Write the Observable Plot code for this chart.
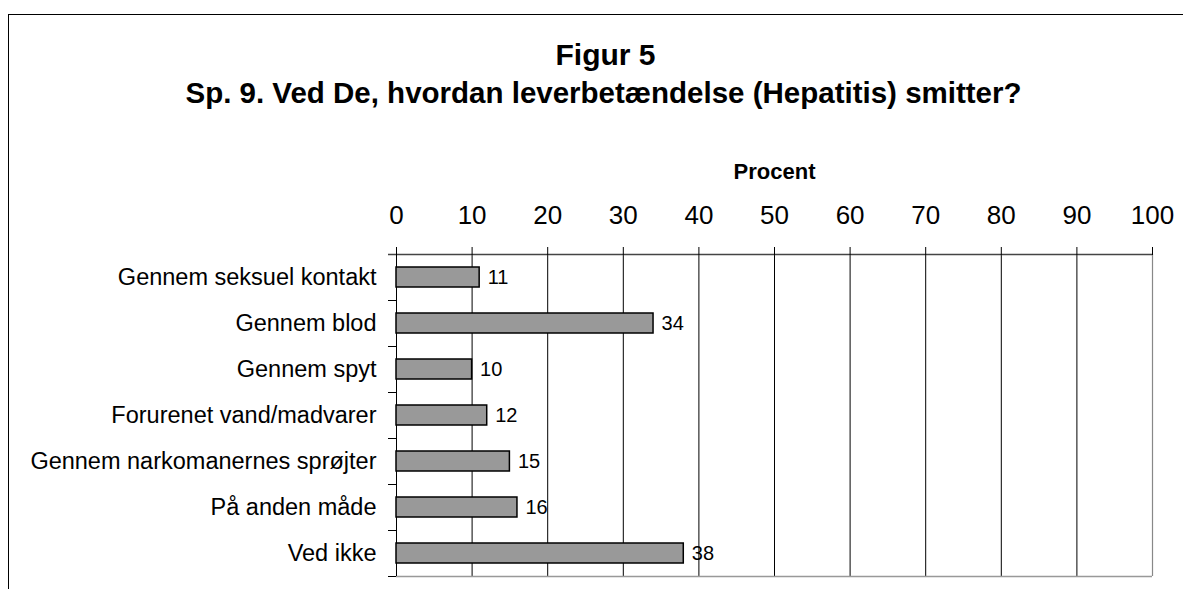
<!DOCTYPE html>
<html>
<head>
<meta charset="utf-8">
<script src="https://cdn.jsdelivr.net/npm/d3@7"></script>
<script src="https://cdn.jsdelivr.net/npm/@observablehq/plot@0.6"></script>
<style>
  html, body { margin: 0; padding: 0; background: #fff; }
  #wrap { position: relative; width: 1183px; height: 589px; overflow: hidden; font-family: "Liberation Sans", Arial, sans-serif; }
  #frame { position: absolute; left: 8px; top: 14px; width: 1300px; height: 700px; border-left: 1.5px solid #000; border-top: 1.5px solid #000; }
  .t { position: absolute; left: 14px; width: 1183px; text-align: center; font-weight: bold; color: #000; white-space: nowrap; line-height: 1.15; }
  #title { top: 38px; font-size: 30px; }
  #subtitle { top: 76px; font-size: 29.5px; left: 12px; }
  #chart { position: absolute; left: 0; top: 140px; }
</style>
</head>
<body>
<div id="wrap">
  <div id="frame"></div>
  <div class="t" id="title">Figur 5</div>
  <div class="t" id="subtitle">Sp. 9. Ved De, hvordan leverbetændelse (Hepatitis) smitter?</div>
  <div id="chart"></div>
</div>
<script>
const categories = [
  "Gennem seksuel kontakt",
  "Gennem blod",
  "Gennem spyt",
  "Forurenet vand/madvarer",
  "Gennem narkomanernes sprøjter",
  "På anden måde",
  "Ved ikke"
];
const values = [11, 34, 10, 12, 15, 16, 38];
const xTicks = [0, 10, 20, 30, 40, 50, 60, 70, 80, 90, 100];
const axisTitle = "Procent";

const data = categories.map((c, i) => ({category: c, value: values[i]}));
const tickLen = 8 / 7.56; // outward tick length in percent units

const chart = Plot.plot({
  width: 1183,
  height: 449,
  marginTop: 114,
  marginBottom: 13,
  marginLeft: 396,
  marginRight: 31,
  style: { fontFamily: "'Liberation Sans', Arial, sans-serif", fontSize: "23px", color: "#000", background: "transparent" },
  x: { domain: [0, 100] },
  y: { domain: categories, padding: 0 },
  marks: [
    Plot.gridX(xTicks.filter(t => t > 0 && t < 100), { stroke: "#000", strokeOpacity: 1, strokeWidth: 1 }),
    Plot.ruleX([100], { stroke: "#888", strokeWidth: 1.2 }),
    Plot.ruleY([categories[categories.length - 1]], { dy: 23, x1: 0, x2: 100, stroke: "#999", strokeWidth: 1.5 }),
    Plot.ruleY([categories[0]], { dy: -23, x1: -tickLen, x2: 100, stroke: "#444", strokeWidth: 1.5 }),
    Plot.ruleY(categories, { dy: 23, x1: -tickLen, x2: 0, stroke: "#000", strokeWidth: 1 }),
    Plot.ruleX([0], { stroke: "#000", strokeWidth: 1 }),
    Plot.barX(data, { x: "value", y: "category", fill: "#999999", stroke: "#000", strokeWidth: 1.5, insetTop: 13, insetBottom: 13 }),
    Plot.text(data, { x: "value", y: "category", text: d => String(d.value), dx: 8, textAnchor: "start", fontSize: 20, fill: "#000" }),
    Plot.axisX(xTicks, { anchor: "top", tickSize: 8, tickPadding: 23, fontSize: 26, label: null, stroke: "#000" }),
    Plot.axisY({ tickSize: 0, tickPadding: 20, fontSize: 23.5, label: null }),
    Plot.text([axisTitle], { frameAnchor: "top", dy: -91, fontWeight: "bold", fontSize: 22, fill: "#000" })
  ]
});
document.getElementById("chart").appendChild(chart);
</script>
</body>
</html>
